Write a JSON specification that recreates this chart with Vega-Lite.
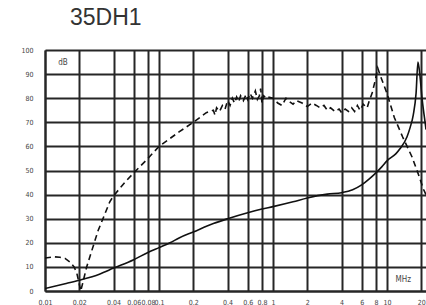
{
  "$schema": "https://vega.github.io/schema/vega-lite/v6.json",
  "autosize": "none",
  "padding": {"left": 45, "top": 50, "right": 0, "bottom": 14},
  "width": 381,
  "height": 241,
  "background": "white",
  "title": {"text": "35DH1", "anchor": "start", "frame": "group", "dx": 25, "fontSize": 23, "font": "Liberation Sans", "fontWeight": "normal", "color": "#333333", "offset": 16},
  "config": {
    "view": {"stroke": null},
    "axis": {"grid": true, "gridColor": "#262626", "gridWidth": 2, "gridOpacity": 1, "domain": true, "domainColor": "#262626", "domainWidth": 2, "ticks": false, "labelFont": "DejaVu Sans Condensed, Liberation Sans Narrow, Liberation Sans", "labelFontSize": 7, "labelColor": "#444444", "labelOverlap": false, "title": null}
  },
  "datasets": {
    "solid": [
      {"f": 0.01, "db": 1}, {"f": 0.015, "db": 3}, {"f": 0.02, "db": 4.5}, {"f": 0.03, "db": 7}, {"f": 0.04, "db": 9.5},
      {"f": 0.06, "db": 13}, {"f": 0.08, "db": 16}, {"f": 0.1, "db": 18}, {"f": 0.125, "db": 20}, {"f": 0.15, "db": 22},
      {"f": 0.2, "db": 24.5}, {"f": 0.3, "db": 28}, {"f": 0.4, "db": 30}, {"f": 0.6, "db": 32.5}, {"f": 0.8, "db": 34},
      {"f": 1, "db": 35}, {"f": 1.5, "db": 37}, {"f": 2, "db": 38.6}, {"f": 3, "db": 40.2}, {"f": 4, "db": 40.8},
      {"f": 5, "db": 42}, {"f": 6, "db": 44}, {"f": 7, "db": 46.5}, {"f": 8, "db": 49}, {"f": 9, "db": 51.5},
      {"f": 10, "db": 54}, {"f": 12, "db": 57}, {"f": 13, "db": 59}, {"f": 15, "db": 64}, {"f": 16, "db": 68},
      {"f": 17, "db": 73}, {"f": 18, "db": 82}, {"f": 18.7, "db": 95}, {"f": 19.5, "db": 89}, {"f": 20.3, "db": 80},
      {"f": 21.6, "db": 70}, {"f": 22, "db": 67}
    ],
    "dashed": [
      {"f": 0.01, "db": 13.7}, {"f": 0.012, "db": 14.2}, {"f": 0.0135, "db": 14}, {"f": 0.015, "db": 13.5}, {"f": 0.0166, "db": 12},
      {"f": 0.018, "db": 10}, {"f": 0.019, "db": 7.5}, {"f": 0.0206, "db": 0}, {"f": 0.0232, "db": 10}, {"f": 0.0292, "db": 25},
      {"f": 0.037, "db": 37}, {"f": 0.04, "db": 39.5}, {"f": 0.05, "db": 45}, {"f": 0.06, "db": 49}, {"f": 0.08, "db": 55},
      {"f": 0.1, "db": 60}, {"f": 0.15, "db": 66}, {"f": 0.2, "db": 70}, {"f": 0.26, "db": 74}, {"f": 0.3, "db": 75},
      {"f": 0.31, "db": 73}, {"f": 0.32, "db": 76}, {"f": 0.34, "db": 74.5}, {"f": 0.36, "db": 77}, {"f": 0.38, "db": 75.5},
      {"f": 0.4, "db": 79}, {"f": 0.42, "db": 77}, {"f": 0.44, "db": 80}, {"f": 0.46, "db": 78}, {"f": 0.48, "db": 80.5},
      {"f": 0.5, "db": 78.5}, {"f": 0.52, "db": 81}, {"f": 0.55, "db": 79}, {"f": 0.58, "db": 81.5}, {"f": 0.6, "db": 79.5},
      {"f": 0.63, "db": 82}, {"f": 0.66, "db": 80}, {"f": 0.7, "db": 83}, {"f": 0.73, "db": 79.5}, {"f": 0.76, "db": 81},
      {"f": 0.78, "db": 84}, {"f": 0.8, "db": 78}, {"f": 0.83, "db": 81}, {"f": 0.87, "db": 80}, {"f": 0.9, "db": 80.5},
      {"f": 1.0, "db": 80}, {"f": 1.05, "db": 79}, {"f": 1.1, "db": 78}, {"f": 1.2, "db": 77}, {"f": 1.3, "db": 80},
      {"f": 1.4, "db": 78.5}, {"f": 1.5, "db": 77.5}, {"f": 1.6, "db": 79}, {"f": 1.8, "db": 78}, {"f": 2.0, "db": 76.5},
      {"f": 2.2, "db": 78}, {"f": 2.4, "db": 77}, {"f": 2.6, "db": 76}, {"f": 2.8, "db": 77}, {"f": 3.0, "db": 75},
      {"f": 3.2, "db": 76}, {"f": 3.5, "db": 74.5}, {"f": 3.8, "db": 75.5}, {"f": 4.0, "db": 74}, {"f": 4.3, "db": 75.5},
      {"f": 4.6, "db": 74.5}, {"f": 4.9, "db": 76}, {"f": 5.2, "db": 74.5}, {"f": 5.5, "db": 77}, {"f": 5.8, "db": 75},
      {"f": 6.2, "db": 77.5}, {"f": 6.7, "db": 76}, {"f": 7.0, "db": 79}, {"f": 7.4, "db": 82}, {"f": 7.9, "db": 87.5},
      {"f": 8.3, "db": 92.5}, {"f": 8.8, "db": 89}, {"f": 9.3, "db": 86}, {"f": 10, "db": 82}, {"f": 11.6, "db": 72},
      {"f": 13.7, "db": 64}, {"f": 16.6, "db": 55.6}, {"f": 19, "db": 48}, {"f": 21, "db": 42}, {"f": 22, "db": 40}
    ],
    "labels": [
      {"f": 0.0144, "db": 94.6, "t": "dB"},
      {"f": 13.9, "db": 4.6, "t": "MHz"}
    ]
  },
  "encoding": {
    "x": {"field": "f", "type": "quantitative", "scale": {"type": "log", "domain": [0.01, 22], "nice": false},
      "axis": {"values": [0.01, 0.02, 0.04, 0.06, 0.08, 0.1, 0.2, 0.4, 0.6, 0.8, 1, 2, 4, 6, 8, 10, 20], "format": "~g", "labelPadding": 7, "labelFlush": false}},
    "y": {"field": "db", "type": "quantitative", "scale": {"domain": [0, 100], "nice": false},
      "axis": {"values": [0, 10, 20, 30, 40, 50, 60, 70, 80, 90, 100], "labelPadding": 12}}
  },
  "layer": [
    {
      "data": {"name": "solid"},
      "mark": {"type": "line", "color": "#111111", "strokeWidth": 1.6, "interpolate": "monotone", "clip": true}
    },
    {
      "data": {"name": "dashed"},
      "mark": {"type": "line", "color": "#111111", "strokeWidth": 1.6, "strokeDash": [6, 4], "clip": true}
    },
    {
      "data": {"name": "labels"},
      "mark": {"type": "text", "font": "DejaVu Sans Condensed, Liberation Sans Narrow, Liberation Sans", "fontSize": 8, "color": "#444444"},
      "encoding": {"text": {"field": "t"}}
    }
  ]
}
